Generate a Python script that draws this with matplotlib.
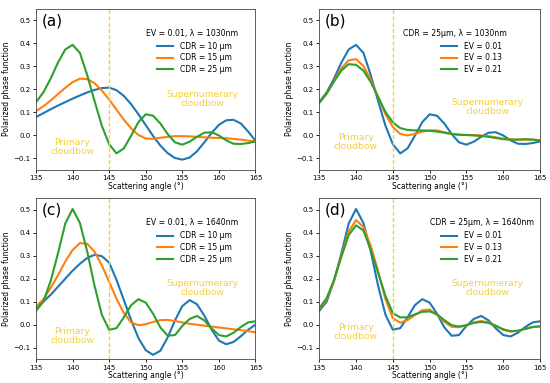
import numpy as np
import matplotlib.pyplot as plt

angles = np.arange(135, 166)

# lambda = 1030 nm
cdr10_1030 = [0.078, 0.095, 0.112, 0.128, 0.143, 0.158, 0.172, 0.185, 0.196, 0.204, 0.206,
              0.195, 0.170, 0.134, 0.090, 0.043, -0.004, -0.046, -0.079, -0.100, -0.107,
              -0.098, -0.071, -0.032, 0.009, 0.044, 0.064, 0.066, 0.050, 0.015, -0.025]
cdr15_1030 = [0.104, 0.125, 0.150, 0.178, 0.205, 0.230, 0.245, 0.243, 0.225, 0.194, 0.154,
              0.110, 0.067, 0.029, 0.000, -0.015, -0.017, -0.012, -0.008, -0.005, -0.005,
              -0.006, -0.008, -0.010, -0.012, -0.013, -0.014, -0.017, -0.020, -0.024, -0.028]
cdr25_ev001_1030 = [0.143, 0.185, 0.245, 0.315, 0.372, 0.392, 0.357, 0.260, 0.148, 0.040, -0.040,
                    -0.080, -0.058, -0.003, 0.056, 0.090, 0.084, 0.050, 0.004, -0.032, -0.042,
                    -0.029, -0.008, 0.010, 0.012, -0.002, -0.023, -0.038, -0.039, -0.035, -0.028]
ev013_1030 = [0.140, 0.180, 0.235, 0.290, 0.325, 0.330, 0.300, 0.240, 0.165, 0.090, 0.035,
              0.005, -0.002, 0.005, 0.015, 0.020, 0.020, 0.012, 0.004, 0.000, 0.000,
              0.000, -0.002, -0.005, -0.010, -0.016, -0.020, -0.020, -0.020, -0.020, -0.022]
ev021_1030 = [0.140, 0.180, 0.233, 0.280, 0.308, 0.305, 0.280, 0.230, 0.165, 0.100, 0.055,
              0.030, 0.022, 0.020, 0.020, 0.018, 0.015, 0.010, 0.005, 0.002, 0.000,
              -0.002, -0.004, -0.008, -0.013, -0.018, -0.020, -0.020, -0.018, -0.020, -0.024]

# lambda = 1640 nm
cdr10_1640 = [0.075, 0.100, 0.130, 0.165, 0.200, 0.235, 0.265, 0.290, 0.304, 0.298, 0.270,
              0.195, 0.108, 0.020, -0.058, -0.111, -0.131, -0.113, -0.055, 0.019, 0.081,
              0.107, 0.089, 0.040, -0.021, -0.069, -0.085, -0.075, -0.050, -0.022, 0.000]
cdr15_1640 = [0.080, 0.110, 0.160, 0.215, 0.275, 0.325, 0.355, 0.352, 0.317, 0.258, 0.186,
              0.113, 0.051, 0.010, -0.002, 0.002, 0.012, 0.020, 0.021, 0.016, 0.010,
              0.004, 0.000, -0.004, -0.008, -0.012, -0.016, -0.020, -0.024, -0.028, -0.033]
cdr25_ev001_1640 = [0.060, 0.100, 0.190, 0.310, 0.440, 0.503, 0.442, 0.318, 0.169, 0.043, -0.022,
                    -0.015, 0.032, 0.085, 0.111, 0.096, 0.048, -0.012, -0.048, -0.045, -0.005,
                    0.025, 0.038, 0.019, -0.016, -0.045, -0.051, -0.035, -0.010, 0.010, 0.015]
ev013_1640 = [0.068, 0.110, 0.190, 0.300, 0.405, 0.455, 0.425, 0.343, 0.232, 0.110, 0.028,
              0.009, 0.020, 0.042, 0.063, 0.066, 0.043, 0.013, -0.009, -0.011, -0.002,
              0.010, 0.016, 0.010, -0.005, -0.022, -0.030, -0.027, -0.018, -0.010, -0.006]
ev021_1640 = [0.072, 0.115, 0.195, 0.295, 0.390, 0.432, 0.410, 0.325, 0.225, 0.125, 0.050,
              0.032, 0.032, 0.045, 0.056, 0.058, 0.045, 0.020, -0.002, -0.008, -0.002,
              0.008, 0.012, 0.008, -0.005, -0.020, -0.028, -0.026, -0.018, -0.010, -0.008]

cdr_labels = ['CDR = 10 µm', 'CDR = 15 µm', 'CDR = 25 µm']
ev_labels = ['EV = 0.01', 'EV = 0.13', 'EV = 0.21']
colors = ['#1f77b4', '#ff7f0e', '#2ca02c']
yellow = '#f3d03c'

fig = plt.figure(figsize=(5.5, 3.83), dpi=100)
w_left, w_right, h = 0.399, 0.4013, 0.4204
boxes = [[0.0655, 0.5574, w_left, h], [0.5805, 0.5574, w_right, h],
         [0.0655, 0.0621, w_left, h], [0.5805, 0.0621, w_right, h]]

panels = [
    ('(a)', [cdr10_1030, cdr15_1030, cdr25_ev001_1030], cdr_labels,
     'EV = 0.01, λ = 1030nm', 0.71, 0.14),
    ('(b)', [cdr25_ev001_1030, ev013_1030, ev021_1030], ev_labels,
     'CDR = 25µm, λ = 1030nm', 0.615, 0.17),
    ('(c)', [cdr10_1640, cdr15_1640, cdr25_ev001_1640], cdr_labels,
     'EV = 0.01, λ = 1640nm', 0.71, 0.147),
    ('(d)', [cdr25_ev001_1640, ev013_1640, ev021_1640], ev_labels,
     'CDR = 25µm, λ = 1640nm', 0.737, 0.17),
]
super_y = [0.44, 0.39, 0.44, 0.44]

for i, (tag, series, labels, anno, anno_x, prim_y) in enumerate(panels):
    ax = fig.add_axes(boxes[i])
    for vals, lab, c in zip(series, labels, colors):
        ax.plot(angles, vals, color=c, lw=1.5, label=lab)
    ax.axvline(145, color=yellow, lw=1.0, ls=(0, (3, 1.5)))
    ax.set_xlim(135, 165)
    ax.set_ylim(-0.15, 0.55)
    ax.set_xticks(np.arange(135, 166, 5))
    ax.set_yticks(np.arange(-0.1, 0.51, 0.1))
    ax.tick_params(labelsize=5, length=2.5, width=0.6, pad=1.5)
    for s in ax.spines.values():
        s.set_linewidth(0.6)
        s.set_color('#444444')
    ax.set_xlabel('Scattering angle (°)', fontsize=5.5, labelpad=0.5)
    ax.set_ylabel('Polarized phase function', fontsize=5.5, labelpad=2)
    ax.text(0.026, 0.925, tag, transform=ax.transAxes, fontsize=11, va='center', ha='left')
    ax.text(anno_x, 0.847, anno, transform=ax.transAxes, fontsize=5.6, va='center', ha='center')
    ax.legend(loc='upper left', bbox_to_anchor=(0.55, 0.795), frameon=False, fontsize=5.5,
              handlelength=2.1, handletextpad=0.9, labelspacing=0.35, borderpad=0, borderaxespad=0)
    ax.text(0.76, super_y[i], 'Supernumerary\ncloudbow', transform=ax.transAxes, fontsize=6.6,
            color=yellow, ha='center', va='center', linespacing=1.0)
    ax.text(0.165, prim_y, 'Primary\ncloudbow', transform=ax.transAxes, fontsize=6.6,
            color=yellow, ha='center', va='center', linespacing=1.0)

plt.savefig('out.png', dpi=100)
